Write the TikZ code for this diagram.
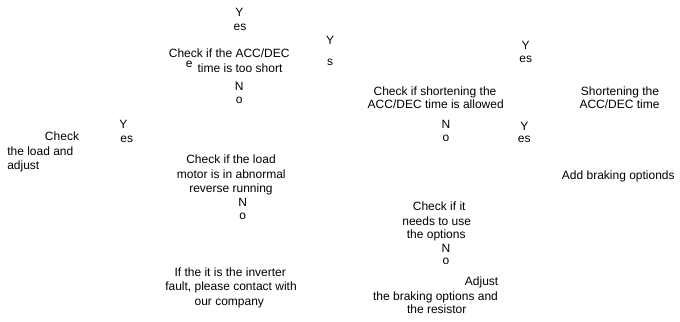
\documentclass[tikz,border=0pt]{standalone}
\usepackage{fontspec}
\setmainfont{Liberation Sans}
\begin{document}
\begin{tikzpicture}[x=1bp,y=-1bp,
  lbl/.style={inner sep=0pt,outer sep=0pt,anchor=base,font=\fontsize{12bp}{14bp}\selectfont},
  lblw/.style={lbl,anchor=base west},
  lble/.style={lbl,anchor=base east}]
\useasboundingbox (0,0) rectangle (680,321);
% top middle
\node[lbl] (y1) at (239.3,16.7) {Y};
\node[lbl] (es1) at (240,30.5) {es};
\node[lbl] (c1a) at (229.2,57.3) {Check if the ACC/DEC};
\node[lbl] (e1) at (189.3,67) {e};
\node[lbl] (c1b) at (240,72.6) {time is too short};
\node[lbl] (ys) at (330,44.7) {Y};
\node[lbl] (s1) at (330,65.8) {s};
\node[lbl] (n1) at (239.3,90.7) {N};
\node[lbl] (o1) at (239.3,103.2) {o};
% top right
\node[lbl] (y2) at (525.7,49) {Y};
\node[lbl] (es2) at (525.7,62.5) {es};
\node[lbl] (c2a) at (435,95) {Check if shortening the};
\node[lbl] (c2b) at (435.7,108) {ACC/DEC time is allowed};
\node[lbl] (s2a) at (620,95) {Shortening the};
\node[lbl] (s2b) at (619.5,108) {ACC/DEC time};
\node[lbl] (n2) at (446,128.3) {N};
\node[lbl] (o2) at (446,141.5) {o};
\node[lbl] (y3) at (524.3,130.7) {Y};
\node[lbl] (es3) at (524.3,142.5) {es};
% left
\node[lbl] (ck) at (62,140.7) {Check};
\node[lblw] (la) at (7.3,155.7) {the load and};
\node[lblw] (lb) at (7.3,169.7) {adjust};
\node[lbl] (y4) at (123.3,128) {Y};
\node[lbl] (es4) at (126.7,142.5) {es};
% middle
\node[lbl] (m1) at (231,163) {Check if the load};
\node[lbl] (m2) at (231.3,178) {motor is in abnormal};
\node[lbl] (m3) at (231,192.3) {reverse running};
\node[lbl] (n3) at (242.7,206.7) {N};
\node[lbl] (o3) at (242.7,219.2) {o};
\node[lbl] (f1) at (230.2,276.3) {If the it is the inverter};
\node[lbl] (f2) at (231,290.7) {fault, please contact with};
\node[lbl] (f3) at (229.3,305) {our company};
% bottom right
\node[lbl] (ab) at (618.3,179) {Add braking optionds};
\node[lbl] (u1) at (439.2,210.7) {Check if it};
\node[lbl] (u2) at (436.7,225) {needs to use};
\node[lbl] (u3) at (436.2,238.3) {the options};
\node[lbl] (n4) at (446,252.3) {N};
\node[lbl] (o4) at (446,264.9) {o};
\node[lble] (a1) at (498.3,285.7) {Adjust};
\node[lbl] (a2) at (435.5,300) {the braking options and};
\node[lbl] (a3) at (436.7,313.3) {the resistor};
\end{tikzpicture}
\end{document}
